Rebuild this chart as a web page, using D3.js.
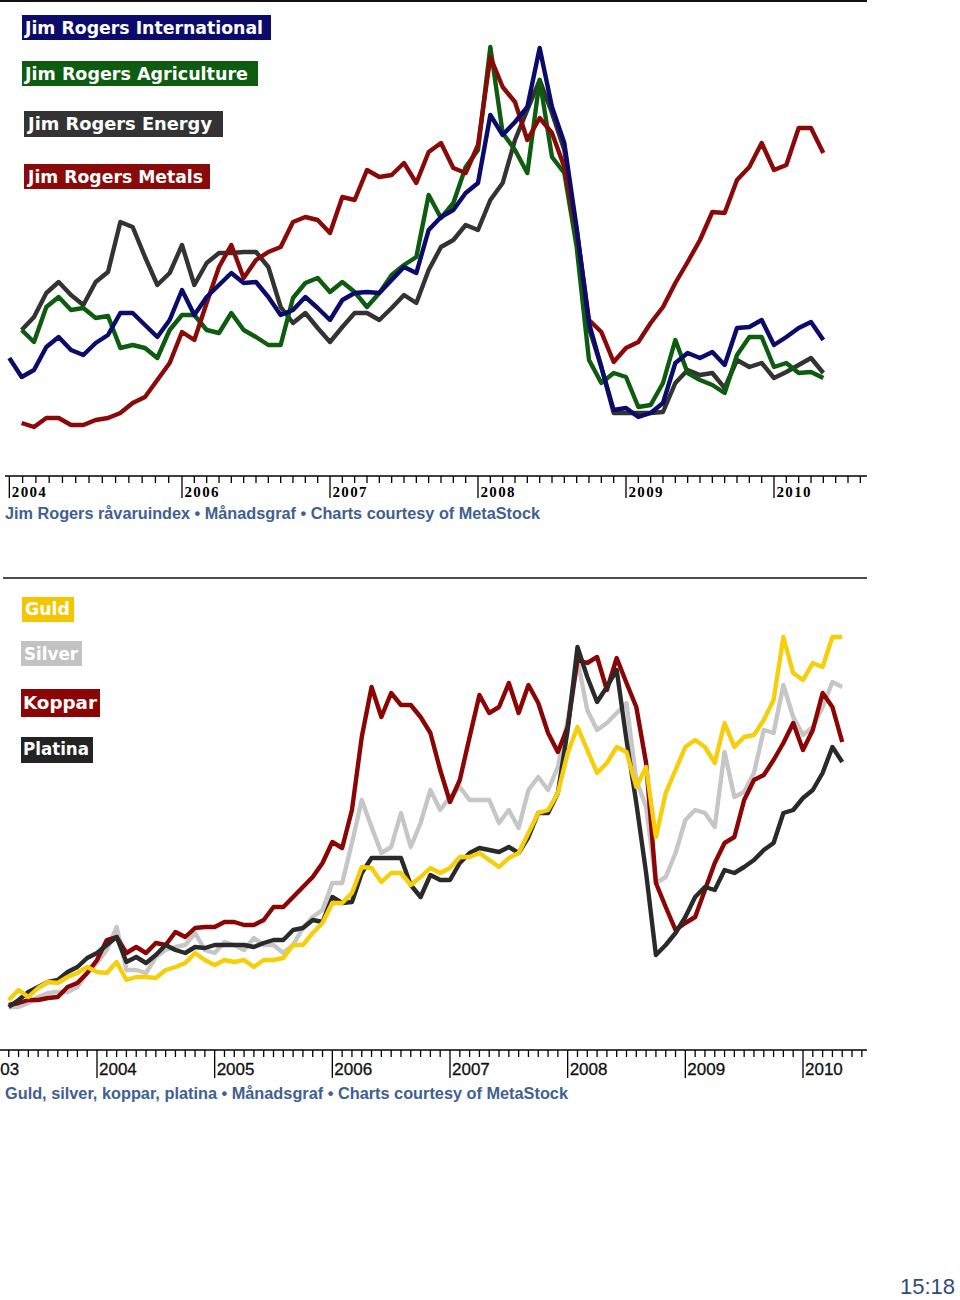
<!DOCTYPE html>
<html><head><meta charset="utf-8">
<script src="https://cdn.jsdelivr.net/npm/d3@7"></script>
<style>body{margin:0;background:#fff}svg{display:block}</style>
</head><body>
<svg id="c" width="960" height="1300"></svg>
<script>
// ---------- Top chart: Jim Rogers indices (monthly, Nov 2004 – May 2010) ----------
const topFirstMonth = "2004-11";
const topLastMonth = "2010-05";
const topSeriesNames = ["Jim Rogers International","Jim Rogers Agriculture","Jim Rogers Energy","Jim Rogers Metals"];
const intlValues = [82,63,70,93,103,90,85,97,105,127,127,115,103,120,150,125,143,155,167,157,158,143,125,130,143,132,120,140,147,148,147,160,173,167,210,223,230,247,257,325,305,318,333,392,333,297,212,117,73,30,32,23,27,37,77,87,82,88,75,112,113,120,95,103,112,118,100];
const agriValues = [null,110,98,133,143,130,132,122,124,92,95,92,82,110,125,125,110,107,127,110,103,95,95,142,157,162,148,158,148,133,147,165,175,183,245,222,237,273,290,393,307,290,267,360,283,267,193,80,57,67,63,33,35,57,100,67,60,55,47,85,103,103,73,77,67,68,62];
const energyValues = [null,110,123,147,158,145,135,158,168,218,213,183,155,167,195,155,177,187,187,188,188,173,133,117,127,112,98,113,127,127,120,132,145,137,170,193,200,215,210,240,257,300,330,360,327,290,208,112,73,27,27,27,27,28,57,70,65,67,52,80,73,77,62,68,75,82,67];
const metalsValues = [null,17,13,22,22,15,15,20,22,27,37,43,60,77,108,100,137,173,195,162,180,188,193,218,223,220,207,243,240,270,263,265,277,257,288,297,272,267,295,383,353,338,300,322,307,273,210,120,108,78,92,98,117,133,157,178,200,228,227,260,273,297,270,275,312,312,287];
const topTickLabels = ["2004","2006","2007","2008","2009","2010"];
const topTickMonths = ["2004-11","2006-01","2007-01","2008-01","2009-01","2010-01"];
const topMinorDivisions = [13,12,12,12,12];

// ---------- Bottom chart: Guld, silver, koppar, platina (monthly, Apr 2003 – May 2010) ----------
const botFirstMonth = "2003-04";
const botLastMonth = "2010-05";
const botSeriesNames = ["Guld","Silver","Koppar","Platina"];
const guldValues = [30,40,33,42,48,47,53,57,63,58,57,68,50,53,53,52,60,63,67,77,70,65,70,68,70,63,70,70,72,85,85,97,107,127,127,137,163,162,148,157,157,145,153,162,157,162,173,173,177,170,163,172,177,197,217,220,237,277,303,280,257,267,283,278,243,263,193,237,260,283,290,283,267,307,283,293,295,310,330,393,357,350,367,363,393,393];
const silverValues = [23,23,27,33,37,38,38,43,57,67,80,103,60,60,57,73,80,83,85,97,80,77,88,85,80,92,85,85,77,85,102,113,120,147,147,187,230,203,177,183,217,183,207,240,220,233,243,230,230,230,207,220,202,240,253,240,263,310,370,320,300,307,317,327,250,223,147,153,177,210,220,217,203,278,233,238,257,300,297,345,313,295,303,323,348,343];
const kopparValues = [25,27,30,30,32,33,43,47,57,70,90,93,77,83,77,87,85,98,93,102,103,103,108,108,105,105,110,123,123,133,143,153,167,188,182,220,293,343,313,337,325,325,313,297,260,228,250,293,335,317,323,347,317,345,327,297,278,303,370,367,373,340,372,347,323,267,147,123,100,107,113,140,167,187,193,230,250,255,270,287,307,280,300,337,323,288];
const platinaValues = [23,30,38,43,48,50,58,63,72,77,85,93,68,73,67,75,85,80,77,83,82,85,85,85,85,83,87,90,90,100,102,110,108,133,127,128,157,172,172,172,172,145,133,155,150,150,167,177,182,180,178,183,177,193,217,217,237,300,383,353,328,343,360,290,227,157,75,85,97,113,133,143,140,160,157,163,170,180,187,217,220,232,240,257,283,268];
const botTickLabels = ["2003","2004","2005","2006","2007","2008","2009","2010"];
const botTickMonths = ["2003-01","2004-01","2005-01","2006-01","2007-01","2008-01","2009-01","2010-01"];

const captionTop = "Jim Rogers råvaruindex • Månadsgraf • Charts courtesy of MetaStock";
const captionBot = "Guld, silver, koppar, platina • Månadsgraf • Charts courtesy of MetaStock";
const clockText = "15:18";

// ---------- helpers ----------
function monthIndex(s, baseYear){ const [y,m]=s.split("-").map(Number); return (y-baseYear)*12 + (m-1); }
function monthRange(a,b,baseYear){ const out=[]; for(let i=monthIndex(a,baseYear); i<=monthIndex(b,baseYear); i++) out.push(i); return out; }

const svg = d3.select("#c");
svg.append("rect").attr("width",960).attr("height",1300).attr("fill","#fff");

// ===== TOP CHART =====
const topMonths = monthRange(topFirstMonth, topLastMonth, 2006);
const xTop = d3.scaleLinear().domain([0,48]).range([182,774]);
const yTop = d3.scaleLinear().domain([0,400]).range([440,40]);
const topColors = ["#0b0b6b","#0d5c0f","#333333","#8a0a0a"];
const topSeries = [intlValues, agriValues, energyValues, metalsValues];

svg.append("line").attr("x1",0).attr("x2",867).attr("y1",1).attr("y2",1).attr("stroke","#111").attr("stroke-width",2);

const topLine = d3.line().defined(d=>d.v!=null).x(d=>xTop(d.m)).y(d=>yTop(d.v));
const topDrawOrder = [2,1,3,0];
svg.append("g").selectAll("path").data(topDrawOrder).join("path")
  .attr("d", i => topLine(topSeries[i].map((v,k)=>({m:topMonths[k], v}))))
  .attr("fill","none").attr("stroke", i=>topColors[i]).attr("stroke-width",4.4)
  .attr("stroke-linejoin","round").attr("stroke-linecap","butt");

// top legend
const topLegend = [
  {x:22,y:15,w:249,h:25,tx:25,ty:34,tl:238},
  {x:22,y:61,w:236,h:25,tx:25,ty:80,tl:223},
  {x:24,y:111,w:199,h:26,tx:28,ty:130,tl:184},
  {x:24,y:164,w:186,h:25,tx:28,ty:183,tl:175}
];
const tlg = svg.append("g").selectAll("g").data(topLegend).join("g");
tlg.append("rect").attr("x",d=>d.x).attr("y",d=>d.y).attr("width",d=>d.w).attr("height",d=>d.h).attr("fill",(d,i)=>topColors[i]);
tlg.append("text").attr("x",d=>d.tx).attr("y",d=>d.ty).attr("textLength",d=>d.tl).attr("lengthAdjust","spacingAndGlyphs")
  .attr("font-family","DejaVu Sans").attr("font-weight","bold").attr("font-size",18).attr("fill","#fff")
  .text((d,i)=>topSeriesNames[i]);

// top axis
const topAxisY = 476;
const gTA = svg.append("g");
gTA.append("line").attr("x1",5).attr("x2",867).attr("y1",topAxisY).attr("y2",topAxisY).attr("stroke","#000").attr("stroke-width",1.6);
const topMajor = topTickMonths.map(s=>monthIndex(s,2006));
const topMinor = [];
topMajor.slice(0,-1).forEach((a,i)=>{ const b=topMajor[i+1], p=topMinorDivisions[i]; for(let k=1;k<p;k++) topMinor.push(a+k*(b-a)/p); });
for(let m=topMajor[topMajor.length-1]+1; xTop(m)<=866; m++) topMinor.push(m);
gTA.selectAll("text").data(topMajor).join("text")
  .attr("x",d=>xTop(d)+2.5).attr("y",topAxisY+21).attr("textLength",34).attr("lengthAdjust","spacing")
  .attr("font-family","Liberation Serif").attr("font-weight","bold").attr("font-size",15).attr("fill","#000")
  .text((d,i)=>topTickLabels[i]);
gTA.selectAll(".mj").data(topMajor).join("line").attr("class","mj")
  .attr("x1",d=>xTop(d)).attr("x2",d=>xTop(d)).attr("y1",topAxisY).attr("y2",topAxisY+22).attr("stroke","#000").attr("stroke-width",1.3);
gTA.selectAll(".mn").data(topMinor).join("line").attr("class","mn")
  .attr("x1",d=>xTop(d)).attr("x2",d=>xTop(d)).attr("y1",topAxisY).attr("y2",topAxisY+7).attr("stroke","#000").attr("stroke-width",1.3);

svg.append("text").attr("x",5).attr("y",519).attr("textLength",535).attr("lengthAdjust","spacingAndGlyphs")
  .attr("font-family","Liberation Sans").attr("font-weight","bold").attr("font-size",16).attr("fill","#41608f").text(captionTop);

// ===== BOTTOM CHART =====
const botMonths = monthRange(botFirstMonth, botLastMonth, 2004);
const xBot = d3.scaleLinear().domain([0,72]).range([97,803]);
const yBot = d3.scaleLinear().domain([0,410]).range([1030,620]);
const botColors = ["#f6cf0a","#c6c6c6","#8b0505","#2a2a2a"];
const botLegendColors = ["#f4c600","#c2c2c2","#8b0505","#232323"];
const botSeries = [guldValues, silverValues, kopparValues, platinaValues];

svg.append("line").attr("x1",3).attr("x2",867).attr("y1",578).attr("y2",578).attr("stroke","#111").attr("stroke-width",1.6);

const botLine = d3.line().x(d=>xBot(d.m)).y(d=>yBot(d.v));
const botDrawOrder = [1,2,3,0];
svg.append("g").selectAll("path").data(botDrawOrder).join("path")
  .attr("d", i => botLine(botSeries[i].map((v,k)=>({m:botMonths[k], v}))))
  .attr("fill","none").attr("stroke", i=>botColors[i]).attr("stroke-width",4.4)
  .attr("stroke-linejoin","round").attr("stroke-linecap","butt");

const botLegend = [
  {x:22,y:597,w:52,h:25,tx:25,ty:615,tl:45},
  {x:21,y:641,w:61,h:25,tx:24,ty:660,tl:54},
  {x:21,y:689,w:79,h:28,tx:23,ty:709,tl:74},
  {x:21,y:737,w:72,h:26,tx:23,ty:755,tl:66}
];
const blg = svg.append("g").selectAll("g").data(botLegend).join("g");
blg.append("rect").attr("x",d=>d.x).attr("y",d=>d.y).attr("width",d=>d.w).attr("height",d=>d.h).attr("fill",(d,i)=>botLegendColors[i]);
blg.append("text").attr("x",d=>d.tx).attr("y",d=>d.ty).attr("textLength",d=>d.tl).attr("lengthAdjust","spacingAndGlyphs")
  .attr("font-family","DejaVu Sans").attr("font-weight","bold").attr("font-size",18).attr("fill","#fff")
  .text((d,i)=>botSeriesNames[i]);

const botAxisY = 1050;
const gBA = svg.append("g");
gBA.append("line").attr("x1",0).attr("x2",867).attr("y1",botAxisY).attr("y2",botAxisY).attr("stroke","#000").attr("stroke-width",1.6);
const botMajor = botTickMonths.map(s=>monthIndex(s,2004));
const botMinor = [];
for(let m=botMajor[0]+1; xBot(m)<=866; m++) if(!botMajor.includes(m)) botMinor.push(m);
gBA.selectAll(".mn").data(botMinor).join("line").attr("class","mn")
  .attr("x1",d=>xBot(d)).attr("x2",d=>xBot(d)).attr("y1",botAxisY).attr("y2",botAxisY+7).attr("stroke","#000").attr("stroke-width",1.3);
gBA.selectAll(".mj").data(botMajor).join("line").attr("class","mj")
  .attr("x1",d=>xBot(d)).attr("x2",d=>xBot(d)).attr("y1",botAxisY).attr("y2",botAxisY+28).attr("stroke","#000").attr("stroke-width",1.3);
gBA.selectAll("text").data(botMajor).join("text")
  .attr("x",d=>xBot(d)+2).attr("y",botAxisY+25)
  .attr("font-family","Liberation Sans").attr("font-size",17).attr("stroke","#111").attr("stroke-width",0.3).attr("fill","#111")
  .text((d,i)=>botTickLabels[i]);

svg.append("text").attr("x",5).attr("y",1099).attr("textLength",563).attr("lengthAdjust","spacingAndGlyphs")
  .attr("font-family","Liberation Sans").attr("font-weight","bold").attr("font-size",16).attr("fill","#41608f").text(captionBot);

svg.append("text").attr("x",955).attr("y",1294).attr("text-anchor","end")
  .attr("font-family","Liberation Sans").attr("font-size",22).attr("fill","#2e4d7c").text(clockText);
</script>
</body></html>
